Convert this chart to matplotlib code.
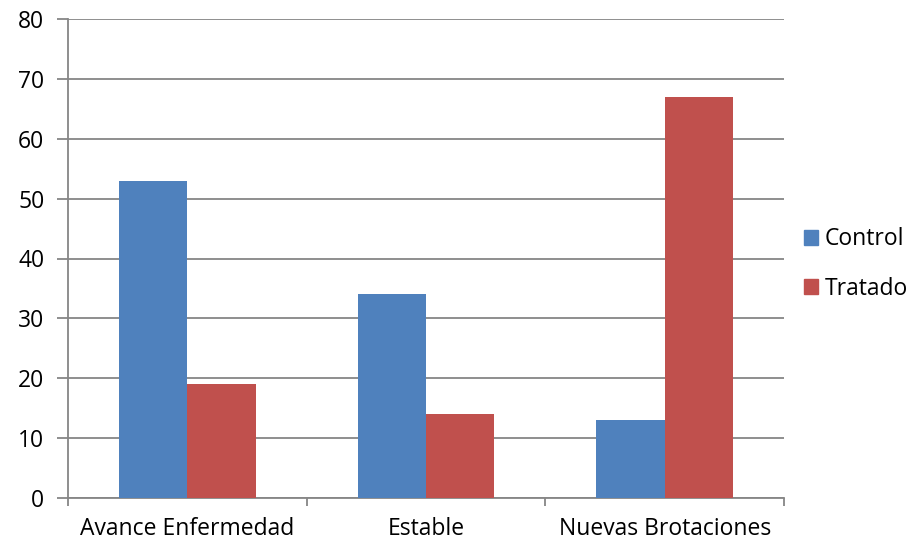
import matplotlib
matplotlib.use("Agg")
import matplotlib.pyplot as plt
import numpy as np
from matplotlib.patches import Patch

categories = ["Avance Enfermedad", "Estable", "Nuevas Brotaciones"]
control = [53, 34, 13]
tratado = [19, 14, 67]
y_ticks = [0, 10, 20, 30, 40, 50, 60, 70, 80]

plt.rcParams['font.family'] = ['Open Sans', 'DejaVu Sans']
FS = 16.5

fig = plt.figure(figsize=(9.2, 5.44), dpi=100)
ax = fig.add_axes([68/920, 1 - 498/544, (784 - 68)/920, (498 - 19)/544])

grid_col = "#868686"
x = np.arange(len(categories))
w = 0.2857
ax.bar(x - w/2, control, width=w, color="#4F81BD", label="Control", zorder=3)
ax.bar(x + w/2, tratado, width=w, color="#C0504D", label="Tratado", zorder=3)

ax.set_xlim(-0.5, len(categories) - 0.5)
ax.set_ylim(0, 80)
ax.set_yticks(y_ticks)
ax.set_yticklabels([str(v) for v in y_ticks], fontsize=FS)
ax.yaxis.grid(True, color=grid_col, linewidth=1.3, zorder=0)
ax.set_axisbelow(True)

# category labels centred, tick marks on category boundaries
ax.set_xticks(x)
ax.set_xticklabels(categories, fontsize=FS)
ax.tick_params(axis='x', length=0, pad=14)
ax.set_xticks(np.arange(-0.5, len(categories)), minor=True)
ax.tick_params(axis='x', which='minor', length=6, width=1.3, color=grid_col)
ax.tick_params(axis='y', length=8, width=1.3, color=grid_col, pad=9)

for side in ["top", "right"]:
    ax.spines[side].set_visible(False)
for side in ["left", "bottom"]:
    ax.spines[side].set_color(grid_col)
    ax.spines[side].set_linewidth(1.3)

handles = [Patch(color="#4F81BD", label="Control"), Patch(color="#C0504D", label="Tratado")]
fig.legend(handles=handles, loc="center left", bbox_to_anchor=(804/920, 1 - 264/544),
           frameon=False, fontsize=FS, handlelength=0.6, handleheight=0.6,
           handletextpad=0.3, labelspacing=1.1, borderpad=0, borderaxespad=0)

fig.savefig("out.png", dpi=100)
